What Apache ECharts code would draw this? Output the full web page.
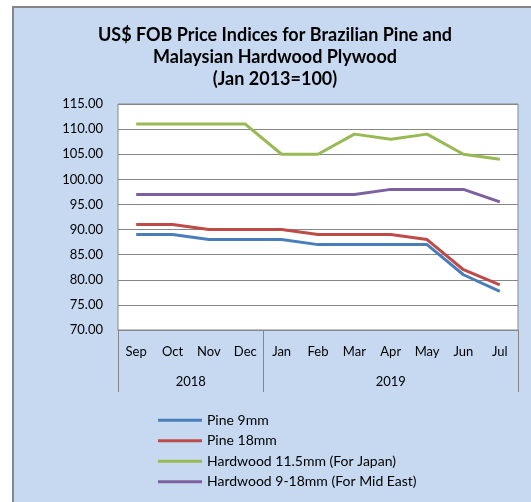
<!DOCTYPE html>
<html lang="en" style="height: 100%">
<head>
	<meta charset="utf-8">
	<title>Plywood price indices</title>
</head>
<body style='height: 100%; margin: 0'>
<div id='container' style='width: 531px; height: 502px'></div>
<script type='text/javascript' src='https://cdn.jsdelivr.net/npm/echarts@6/dist/echarts.min.js'></script>
<script type="text/javascript">

	// 月份与年份分组
	var months = ['Sep', 'Oct', 'Nov', 'Dec', 'Jan', 'Feb', 'Mar', 'Apr', 'May', 'Jun', 'Jul'];
	var years = ['2018', '2019'];
	var yearSpans = [4, 7];

	// 各系列数值
	var pine9 = [89, 89, 88, 88, 88, 87, 87, 87, 87, 81, 77.7];
	var pine18 = [91, 91, 90, 90, 90, 89, 89, 89, 88, 82, 79];
	var hardwoodJapan = [111, 111, 111, 111, 105, 105, 109, 108, 109, 105, 104];
	var hardwoodMidEast = [97, 97, 97, 97, 97, 97, 97, 98, 98, 98, 95.5];

	var names = ['Pine 9mm', 'Pine 18mm', 'Hardwood 11.5mm (For Japan)', 'Hardwood 9-18mm (For Mid East)'];
	var colors = ['#4a7ebb', '#be4b48', '#98b954', '#7d60a0'];
	var values = [pine9, pine18, hardwoodJapan, hardwoodMidEast];

	// 年份分组线位置和标签中心
	var yearTicks = [0];
	var yearCenters = [];
	var acc = 0;
	for (var i = 0; i < yearSpans.length; i++) {
		yearCenters.push(acc + yearSpans[i] / 2);
		acc += yearSpans[i];
		yearTicks.push(acc);
	}

	var font = 'Lato, "Liberation Sans", sans-serif';

	var dom = document.getElementById('container');
	var myChart = echarts.init(dom, null, { renderer: 'canvas' });

	var option = {
		backgroundColor: '#ffffff',
		animation: false,
		graphic: [{
			type: 'rect',
			z: -10,
			shape: { x: 13, y: 7, width: 540, height: 520 },
			style: { fill: '#c6d9f0', stroke: '#868686', lineWidth: 2 }
		}],
		title: {
			text: 'US$ FOB Price Indices for Brazilian Pine and\nMalaysian Hardwood Plywood\n(Jan 2013=100)',
			left: 270,
			top: 19,
			textAlign: 'center',
			textStyle: {
				fontFamily: font,
				fontSize: 18,
				fontWeight: 'bold',
				color: '#000',
				lineHeight: 22
			}
		},
		legend: {
			orient: 'vertical',
			left: 158,
			top: 413,
			padding: 0,
			itemWidth: 44,
			itemHeight: 3,
			itemGap: 6,
			icon: 'rect',
			textStyle: { fontFamily: font, fontSize: 14, color: '#000', lineHeight: 14.5 },
			data: names
		},
		grid: {
			left: 118,
			top: 104,
			width: 400,
			height: 226,
			show: true,
			backgroundColor: '#ffffff',
			borderColor: '#868686',
			borderWidth: 1
		},
		xAxis: [{
			type: 'category',
			data: months,
			boundaryGap: true,
			axisLine: { lineStyle: { color: '#868686' } },
			axisTick: { show: false },
			axisLabel: { fontFamily: font, fontSize: 13, color: '#000', margin: 15, interval: 0 }
		}, {
			type: 'value',
			position: 'bottom',
			min: 0,
			max: months.length,
			splitLine: { show: false },
			axisLine: { show: false },
			axisTick: {
				show: true,
				customValues: yearTicks,
				length: 62,
				lineStyle: { color: '#868686' }
			},
			axisLabel: {
				customValues: yearCenters,
				margin: 45,
				fontFamily: font,
				fontSize: 13,
				color: '#000',
				formatter: function (v) {
					var idx = yearCenters.indexOf(v);
					return idx >= 0 ? years[idx] : '';
				}
			}
		}],
		yAxis: {
			type: 'value',
			min: 70,
			max: 115,
			interval: 5,
			axisLine: { show: false },
			axisTick: { show: false },
			splitLine: { lineStyle: { color: '#868686' } },
			axisLabel: {
				fontFamily: font,
				fontSize: 13,
				color: '#000',
				margin: 15,
				formatter: function (v) { return v.toFixed(2); }
			}
		},
		series: values.map(function (d, i) {
			return {
				name: names[i],
				type: 'line',
				xAxisIndex: 0,
				data: d,
				showSymbol: false,
				symbol: 'none',
				color: colors[i],
				lineStyle: { width: 3, color: colors[i] }
			};
		})
	};

	myChart.setOption(option);
	window.addEventListener('resize', myChart.resize);
</script>
</body>
</html>
